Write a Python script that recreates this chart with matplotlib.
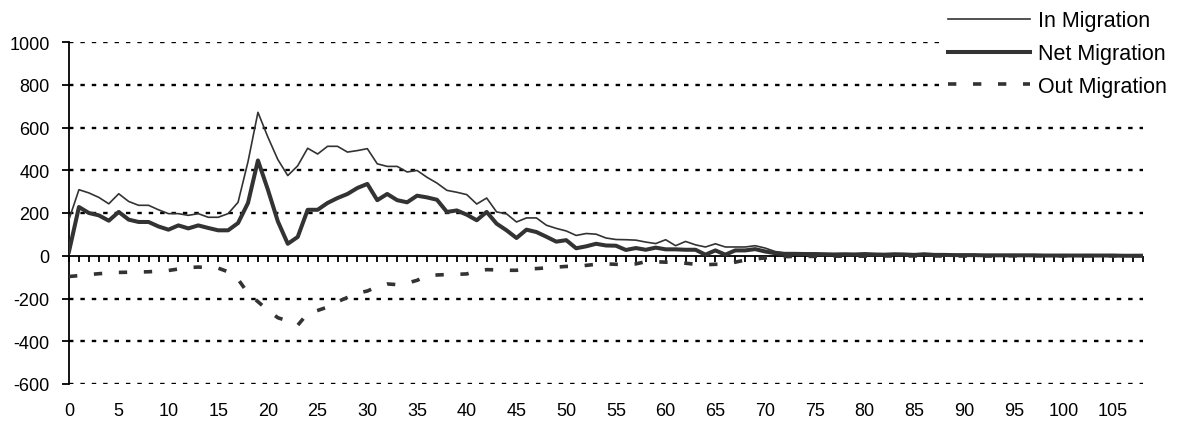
import matplotlib.pyplot as plt
import numpy as np

plt.rcParams['font.family'] = ['Liberation Sans', 'DejaVu Sans']
plt.rcParams['lines.scale_dashes'] = False
plt.rcParams['axes.unicode_minus'] = False

# age categories 0..108
ages = list(range(109))

in_migration = [170, 309, 294, 273, 243, 290, 254, 236, 236, 215,
                197, 197, 189, 197, 180, 180, 197, 250, 440, 671,
                555, 450, 375, 421, 503, 476, 512, 512, 485, 492,
                501, 430, 418, 418, 392, 399, 367, 340, 306, 297,
                286, 242, 270, 205, 196, 158, 177, 177, 143, 128,
                116, 95, 104, 101, 83, 76, 75, 73, 64, 57,
                75, 47, 67, 51, 41, 56, 41, 41, 41, 47,
                36, 20, 12, 12, 10, 10, 9, 8, 8, 7,
                9, 7, 6, 8, 7, 6, 9, 5, 5, 4,
                4, 4, 3, 3, 3, 3, 2, 3, 2, 2,
                2, 2, 2, 1, 2, 1, 1, 1, 1]

net_migration = [20, 228, 200, 189, 164, 205, 169, 158, 158, 137,
                 122, 142, 128, 142, 130, 119, 119, 153, 247, 446,
                 309, 161, 56, 88, 215, 215, 247, 270, 289, 317,
                 336, 260, 289, 260, 250, 281, 273, 262, 205, 212,
                 192, 166, 205, 150, 119, 83, 122, 111, 89, 66,
                 73, 35, 44, 56, 48, 47, 27, 36, 28, 38,
                 30, 30, 28, 28, 5, 25, 5, 25, 25, 31,
                 20, 12, 9, 9, 8, 8, 7, 6, 7, 6,
                 8, 6, 5, 7, 6, 4, 7, 4, 4, 3,
                 3, 3, 2, 2, 2, 2, 2, 2, 1, 1,
                 1, 1, 1, 1, 1, 1, 0, 0, 0]

out_migration = [-97, -93, -88, -84, -81, -78, -77, -76, -75, -72,
                 -69, -62, -55, -53, -55, -58, -75, -110, -175, -215,
                 -255, -290, -305, -325, -270, -256, -240, -215, -195, -175,
                 -165, -145, -132, -135, -128, -115, -94, -90, -88, -87,
                 -85, -70, -65, -66, -68, -68, -62, -60, -57, -53,
                 -50, -50, -45, -40, -38, -40, -42, -38, -28, -28,
                 -30, -31, -35, -40, -42, -40, -39, -30, -20, -15,
                 -10, -6, -4, -3, -3, -3, -2, -2, -2, -2,
                 -2, -2, -1, -1, -1, -1, -1, -1, -1, -1,
                 -1, -1, -1, -1, 0, 0, 0, 0, 0, 0,
                 0, 0, 0, 0, 0, 0, 0, 0, 0]

y_ticks = [-600, -400, -200, 0, 200, 400, 600, 800, 1000]
x_labels = list(range(0, 110, 5))

fig = plt.figure(figsize=(11.8, 4.27), dpi=100)
ax = fig.add_axes([69 / 1180, 1 - 385 / 427, (1143 - 69) / 1180, (385 - 43) / 427])

line_col = '#333333'
ax.plot(ages, in_migration, color=line_col, lw=1.2, label='In Migration', zorder=4)
ax.plot(ages, net_migration, color=line_col, lw=2.9, label='Net Migration', zorder=5)
ax.plot(ages, out_migration, color=line_col, lw=2.6, dashes=(6, 12),
        label='Out Migration', zorder=3)

ax.set_xlim(0, 108)
ax.set_ylim(-600, 1000)

# dotted gridlines
for v in y_ticks:
    if v != 0:
        ax.axhline(v, color='black', lw=1.7, dashes=(3.2, 5.0), zorder=1)
ax.axhline(0, color='black', lw=1.3, zorder=2)

for s in ['top', 'right', 'bottom']:
    ax.spines[s].set_visible(False)
ax.spines['left'].set_linewidth(1.3)

ax.set_yticks(y_ticks)
ax.tick_params(axis='y', direction='out', length=5, width=1.3, pad=9, labelsize=13)

# labels at the bottom, tick marks on the zero line
ax.set_xticks(x_labels)
ax.tick_params(axis='x', length=0, pad=13, labelsize=13)
sec = ax.secondary_xaxis(600 / 1600)
sec.set_xticks(ages)
sec.set_xticklabels([])
sec.tick_params(direction='out', length=4.5, width=1.3)
sec.spines['bottom'].set_visible(False)

leg = fig.legend(loc='upper right', bbox_to_anchor=(1173 / 1180, 1 - 5 / 427),
                 fontsize=15.5, handlelength=3.8, handletextpad=0.37,
                 labelspacing=0.54, borderpad=0.3, borderaxespad=0,
                 frameon=True, fancybox=False)
leg.get_frame().set_edgecolor('none')
leg.get_frame().set_facecolor('white')
leg.get_frame().set_alpha(1)

fig.savefig('out.png', dpi=100)
